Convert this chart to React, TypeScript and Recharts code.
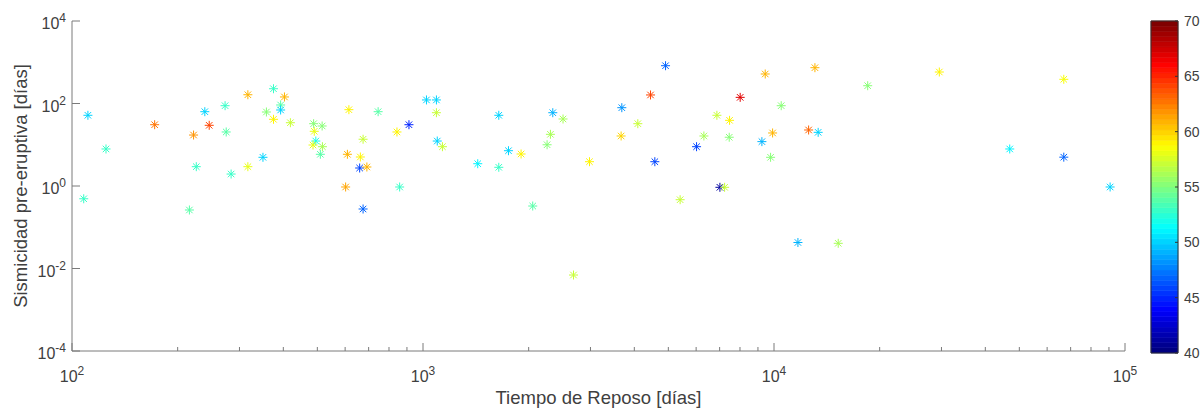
import React from 'react';
import { ScatterChart, Scatter, XAxis, YAxis, ComposedChart, ReferenceArea } from 'recharts';

// ---- data ----
const restTimes = [111,125,108,172,222,246,239,273,275,226,216,284,317,317,350,358,375,393,393,375,403,419,488,516,490,495,486,517,510,615,609,602,663,660,692,675,675,745,843,858,912,1023,1092,1092,1098,1136,1644,1432,1644,1752,1903,2054,2343,2506,2307,2257,2981,3668,3685,4093,4449,4909,4576,5402,6017,6313,6876,7472,7455,7013,7233,8010,9441,10484,9909,9237,9779,11700,13080,18490,12550,13360,29580,66930,46950,66930,90700,15240,2684];
const seismicity = [51.8,7.9,0.49,30.6,17.2,29.6,63.3,88.5,20.4,2.94,0.262,1.95,163,2.94,4.96,62.2,228,92,69.6,41.4,144,34.2,32.4,28.5,21.2,12.3,9.86,8.97,5.87,70.8,5.87,0.946,5.05,2.73,2.89,0.277,13.6,63.3,20.4,0.946,30.6,122,122,59.8,12.3,8.97,51.8,3.47,2.84,7.17,5.97,0.327,59.8,42.1,17.9,10.0,3.88,16.3,79.1,32.4,161,824,3.88,0.465,8.97,16.3,51.8,39.1,15.2,0.93,0.93,141,519,88.5,19.3,11.9,4.96,0.0427,738,270,22.8,20.0,580,386,7.9,5.0,0.946,0.0408,0.00695];
const colorValues = [50,53,53,62.5,62,64,50,53,54,53,54,53,61,58,50,55,53,54,50,59,61,57,55,55,58,52,58,56,54,59,61,61.5,59,46,61,47,57,54,59,53,45,50,50,57,50,57,50,51,53,50,59,54,49,56,56,55,59,60,48,57,64,47,46,57,46,56,57,59,55,41,57,67,61,55,61,49,55,49,61,55,63,50,59,58.5,51,47,50,56,57];

const xTicks = [100,200,300,400,500,600,700,800,900,1000,2000,3000,4000,5000,6000,7000,8000,9000,10000,20000,30000,40000,50000,60000,70000,80000,90000,100000];
const yTicks = [1e-4, 1e-2, 1, 1e2, 1e4];
const colorbarTicks = [40, 45, 50, 55, 60, 65, 70];
const colorRange = [40, 70];
const xLabel = 'Tiempo de Reposo [días]';
const yLabel = 'Sismicidad pre-eruptiva [días]';

const points = restTimes.map((x, i) => ({ x, y: seismicity[i], c: colorValues[i] }));

const FONT = '"Liberation Sans", Arial, Helvetica, sans-serif';
const AXIS = '#7a7a7a';
const TXT = '#404040';
const LEVELS = 64;

function clamp01(v: number) { return Math.max(0, Math.min(1, v)); }
function jetAt(t: number) {
  const r = clamp01(Math.min(4 * t - 1.5, -4 * t + 4.5));
  const g = clamp01(Math.min(4 * t - 0.5, -4 * t + 3.5));
  const b = clamp01(Math.min(4 * t + 0.5, -4 * t + 2.5));
  const h = (v: number) => Math.round(v * 255).toString(16).padStart(2, '0');
  return '#' + h(r) + h(g) + h(b);
}
function jetLevel(i: number) { return jetAt(i / (LEVELS - 1)); }
function jet(v: number) {
  const idx = Math.max(0, Math.min(LEVELS - 1, Math.floor(((v - colorRange[0]) / (colorRange[1] - colorRange[0])) * LEVELS)));
  return jetLevel(idx);
}

const Asterisk = (props: any) => {
  const { cx, cy, payload } = props;
  if (cx == null || cy == null) return null;
  const col = jet(payload.c);
  const r = 4.5;
  const d = r * 0.72;
  return (
    <g stroke={col} strokeWidth={1} fill="none">
      <line x1={cx - r} y1={cy} x2={cx + r} y2={cy} />
      <line x1={cx} y1={cy - r} x2={cx} y2={cy + r} />
      <line x1={cx - d} y1={cy - d} x2={cx + d} y2={cy + d} />
      <line x1={cx - d} y1={cy + d} x2={cx + d} y2={cy - d} />
    </g>
  );
};

const XTick = (props: any) => {
  const { x, y, payload } = props;
  const lv = Math.log10(payload.value);
  const e = Math.round(lv);
  const major = Math.abs(lv - e) < 1e-9;
  return (
    <g>
      <line x1={x} x2={x} y1={y} y2={y - (major ? 8 : 4)} stroke={AXIS} />
      {major && (
        <text x={x} y={y + 31} textAnchor="middle" fill={TXT} fontSize={16} fontFamily={FONT}>
          <tspan>10</tspan>
          <tspan dy={-7} fontSize={12}>{e}</tspan>
        </text>
      )}
    </g>
  );
};

const YTick = (props: any) => {
  const { x, y, payload } = props;
  const e = Math.round(Math.log10(payload.value));
  return (
    <g>
      <line x1={x} x2={x + 8} y1={y} y2={y} stroke={AXIS} />
      <text x={x - 6} y={y + 8} textAnchor="end" fill={TXT} fontSize={16} fontFamily={FONT}>
        <tspan>10</tspan>
        <tspan dy={-7} fontSize={12}>{e}</tspan>
      </text>
    </g>
  );
};

const CbTick = (props: any) => {
  const { x, y, payload } = props;
  return (
    <g>
      <line x1={x - 9} x2={x - 6} y1={y} y2={y} stroke="#333" />
      <text x={x} y={y + 5} textAnchor="start" fill={TXT} fontSize={14} fontFamily={FONT}>{payload.value}</text>
    </g>
  );
};

const XTitle = (props: any) => {
  const vb = props.viewBox || {};
  return (
    <text x={vb.x + vb.width / 2} y={vb.y + 53} textAnchor="middle" fill={TXT} fontSize={18.5} fontFamily={FONT}>{xLabel}</text>
  );
};

const YTitle = (props: any) => {
  const vb = props.viewBox || {};
  const cx = vb.x + 27;
  const cy = vb.y + vb.height / 2;
  return (
    <text x={cx} y={cy} transform={`rotate(-90 ${cx} ${cy})`} textAnchor="middle" fill={TXT} fontSize={18.5} fontFamily={FONT}>{yLabel}</text>
  );
};

const NoShape = () => null;

const bands = Array.from({ length: LEVELS }, (_, i) => i);
const cbData = [{ x: 0, y: colorRange[0] }, { x: 1, y: colorRange[1] }];

export default function App() {
  return (
    <div style={{ position: 'absolute', left: 0, top: 0, width: 1204, height: 410, background: '#fff' }}>
      <div style={{ position: 'absolute', left: 0, top: 0 }}>
        <ScatterChart width={1204} height={410} margin={{ top: 21, right: 79, bottom: 0, left: 0 }}>
          <XAxis
            type="number"
            dataKey="x"
            scale="log"
            domain={[100, 100000]}
            ticks={xTicks}
            interval={0}
            allowDataOverflow
            height={59}
            tickSize={0}
            tickMargin={0}
            tick={<XTick />}
            tickLine={false}
            axisLine={{ stroke: AXIS }}
            label={<XTitle />}
          />
          <YAxis
            type="number"
            dataKey="y"
            scale="log"
            domain={[1e-4, 1e4]}
            ticks={yTicks}
            interval={0}
            allowDataOverflow
            width={72}
            tickSize={0}
            tickMargin={0}
            tick={<YTick />}
            tickLine={false}
            axisLine={{ stroke: AXIS }}
            label={<YTitle />}
          />
          <Scatter data={points} isAnimationActive={false} shape={<Asterisk />} />
        </ScatterChart>
      </div>
      <div style={{ position: 'absolute', left: 1140, top: 0 }}>
        <ScatterChart width={64} height={410} margin={{ top: 21, right: 0, bottom: 57, left: 11 }}>
          <XAxis type="number" dataKey="x" domain={[0, 1]} hide />
          <YAxis
            type="number"
            dataKey="y"
            orientation="right"
            domain={colorRange}
            ticks={colorbarTicks}
            interval={0}
            width={26}
            tickSize={0}
            tickMargin={6}
            tick={<CbTick />}
            tickLine={false}
            axisLine={false}
          />
          <Scatter data={cbData} isAnimationActive={false} shape={<NoShape />} />
          {bands.map((i) => (
            <ReferenceArea
              key={i}
              x1={0}
              x2={1}
              y1={colorRange[0] + (i * (colorRange[1] - colorRange[0])) / LEVELS}
              y2={colorRange[0] + ((i + 1) * (colorRange[1] - colorRange[0])) / LEVELS}
              fill={jetLevel(i)}
              fillOpacity={1}
              stroke={jetLevel(i)}
              strokeWidth={0.6}
              ifOverflow="visible"
            />
          ))}
          <ReferenceArea x1={0} x2={1} y1={colorRange[0]} y2={colorRange[1]} fill="none" stroke="#333" strokeWidth={1} ifOverflow="visible" />
        </ScatterChart>
      </div>
    </div>
  );
}
